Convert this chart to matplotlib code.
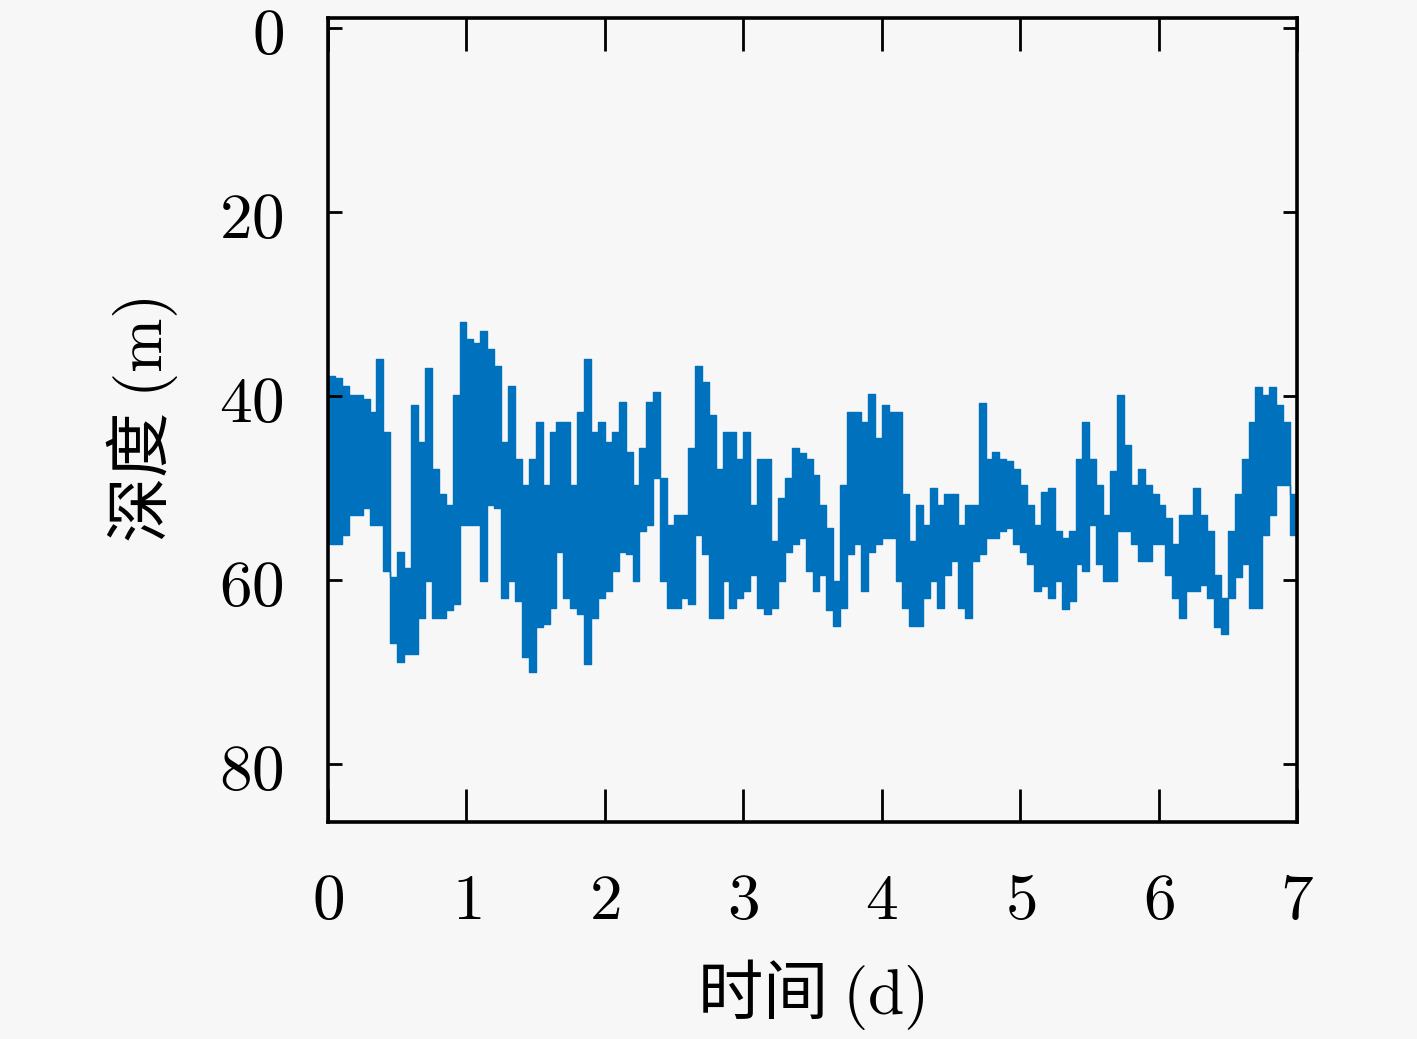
import matplotlib
matplotlib.use("Agg")
import matplotlib.pyplot as plt
import numpy as np

plt.rcParams["mathtext.fontset"] = "cm"
plt.rcParams["font.family"] = ["Noto Sans CJK SC", "DejaVu Sans"]

# envelope of the depth trace, read per 0.05 d window: shallowest / deepest value
SHALLOW = [
    37.8, 38.0, 38.9, 39.9, 39.9, 40.3, 41.7, 36.0, 43.9, 59.7,
    56.9, 58.7, 41.0, 45.0, 36.9, 47.9, 50.7, 51.8, 39.9, 32.0,
    33.8, 34.2, 32.9, 34.9, 36.7, 45.0, 38.9, 46.8, 49.7, 46.8,
    42.8, 49.7, 43.9, 42.8, 42.8, 49.7, 41.7, 36.0, 43.9, 42.8,
    45.0, 43.9, 40.6, 46.1, 49.7, 45.7, 40.6, 39.6, 48.9, 54.0,
    52.9, 52.9, 45.7, 36.7, 38.5, 42.1, 47.9, 43.9, 43.9, 46.8,
    43.9, 51.8, 46.8, 46.8, 55.8, 51.1, 48.9, 45.7, 46.2, 46.8,
    48.6, 51.8, 54.3, 60.1, 49.7, 41.7, 41.7, 42.8, 39.8, 44.6,
    41.0, 41.7, 41.7, 50.7, 55.8, 51.8, 54.0, 50.0, 51.8, 50.7,
    50.7, 54.0, 51.8, 51.8, 40.8, 46.8, 46.1, 46.8, 47.1, 47.9,
    49.7, 51.8, 54.0, 50.4, 50.0, 54.7, 55.4, 54.7, 46.8, 42.8,
    46.8, 49.7, 52.9, 48.2, 39.9, 45.3, 49.7, 47.9, 49.7, 50.7,
    51.8, 53.3, 56.1, 52.9, 52.9, 50.0, 52.9, 54.7, 59.4, 61.9,
    54.7, 50.7, 46.8, 42.8, 39.0, 39.9, 39.0, 41.0, 42.8, 50.7,
]
DEEP = [
    56.1, 56.1, 55.1, 52.9, 52.9, 52.2, 54.0, 54.0, 59.0, 66.9,
    68.9, 68.0, 68.0, 64.1, 60.1, 64.1, 64.1, 63.3, 62.6, 54.0,
    54.0, 54.0, 60.1, 51.8, 52.2, 61.9, 60.1, 62.3, 68.4, 70.0,
    65.1, 64.8, 63.0, 56.9, 61.9, 63.0, 63.7, 69.1, 64.1, 61.9,
    61.2, 59.0, 56.9, 57.2, 60.1, 54.7, 54.0, 48.9, 60.1, 63.0,
    63.0, 61.9, 62.6, 55.1, 57.2, 64.1, 64.1, 60.1, 63.0, 61.9,
    61.2, 59.4, 63.0, 63.7, 63.0, 60.1, 56.9, 56.1, 55.4, 59.0,
    61.2, 59.4, 63.3, 65.0, 63.0, 57.2, 56.1, 61.2, 56.9, 56.1,
    55.4, 55.4, 60.1, 63.0, 65.0, 65.0, 61.9, 60.1, 63.0, 59.4,
    57.9, 63.0, 64.1, 57.9, 57.2, 55.4, 55.4, 54.7, 54.3, 56.1,
    56.9, 58.3, 61.2, 60.6, 61.9, 60.1, 63.2, 62.3, 58.3, 59.0,
    54.0, 58.3, 60.1, 60.1, 54.7, 54.7, 56.1, 57.9, 57.9, 56.1,
    56.1, 59.4, 61.9, 64.1, 61.2, 61.2, 60.5, 61.9, 65.1, 65.9,
    61.9, 59.7, 58.3, 63.0, 63.0, 55.1, 52.9, 49.7, 49.7, 55.1,
]
T_END = 7.0
X_TICKS = [0, 1, 2, 3, 4, 5, 6, 7]
Y_TICKS = [0, 20, 40, 60, 80]

# window edges in time; each window is drawn as a solid vertical block
edges = np.linspace(0, T_END, len(SHALLOW) + 1)
t_step = np.repeat(edges, 2)[1:-1]
top_step = np.repeat(SHALLOW, 2)
bot_step = np.repeat(DEEP, 2)

BLUE = "#0072BD"
BG = "#f7f7f7"
fig = plt.figure(figsize=(14.17, 10.39), dpi=100, facecolor=BG)
ax = fig.add_axes([0.2315, 0.2089, 0.6838, 0.7738], facecolor=BG)

ax.fill_between(t_step, top_step, bot_step, color=BLUE, linewidth=1.0,
                edgecolor=BLUE)

ax.set_xlim(0, 7)
ax.set_ylim(86.3, -1.1)
ax.set_xticks(X_TICKS)
ax.set_yticks(Y_TICKS)
ax.set_xticklabels([f"${v}$" for v in X_TICKS])
ax.set_yticklabels([f"${v}$" for v in Y_TICKS])
for s in ax.spines.values():
    s.set_linewidth(2.6)
ax.tick_params(axis="x", direction="in", length=24, width=2.0,
               top=True, labelsize=47, pad=33)
ax.tick_params(axis="y", direction="in", length=10, width=2.0,
               right=True, labelsize=47, pad=32)

ax.text(0.498, -0.215, "时间 $(\\mathrm{d})$", transform=ax.transAxes,
        ha="center", va="center", fontsize=47)
ax.text(-0.192, 0.5, "深度 $(\\mathrm{m})$", transform=ax.transAxes,
        ha="center", va="center", rotation=90, fontsize=47)

fig.savefig("out.png", dpi=100, facecolor=BG)
